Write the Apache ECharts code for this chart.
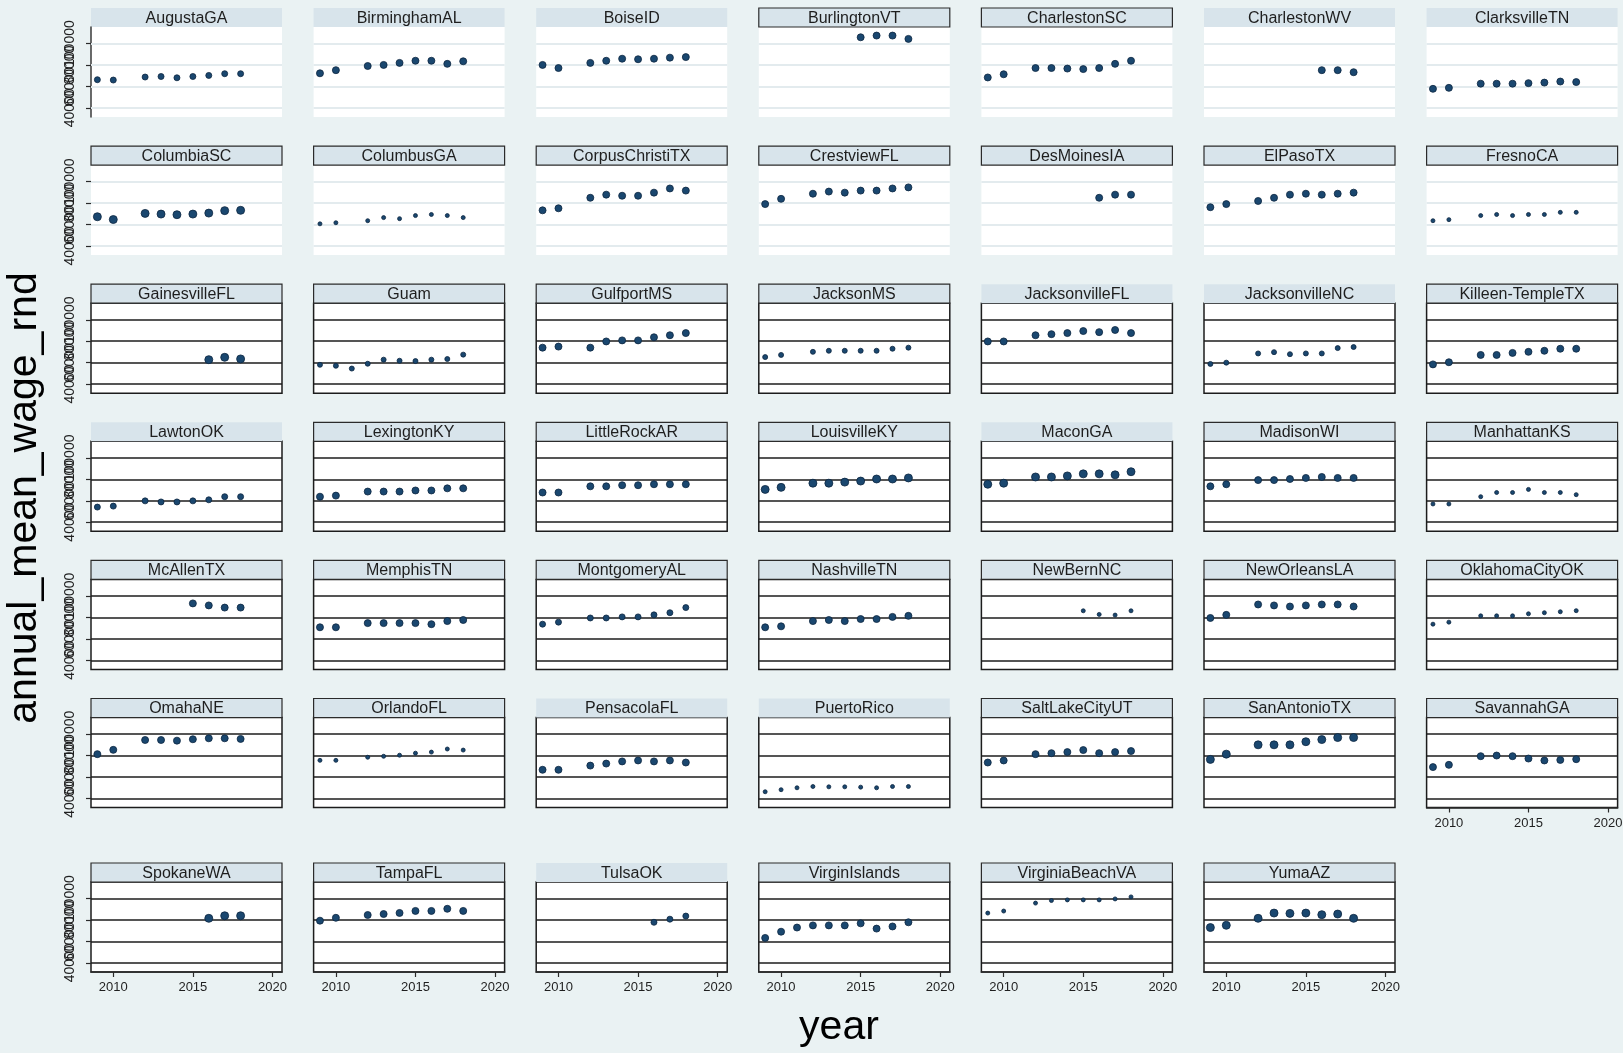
<!DOCTYPE html>
<html>
<head>
<meta charset="utf-8">
<script src="https://cdn.jsdelivr.net/npm/echarts@6/dist/echarts.min.js"></script>
<style>
  html, body { margin: 0; padding: 0; background: #eaf2f3; }
  #main { width: 1623px; height: 1053px; }
</style>
</head>
<body>
<div id="main"></div>
<script>
// panels, in the order they are drawn (7 per row)
const cities = [
  'AugustaGA', 'BirminghamAL', 'BoiseID', 'BurlingtonVT', 'CharlestonSC', 'CharlestonWV', 'ClarksvilleTN',
  'ColumbiaSC', 'ColumbusGA', 'CorpusChristiTX', 'CrestviewFL', 'DesMoinesIA', 'ElPasoTX', 'FresnoCA',
  'GainesvilleFL', 'Guam', 'GulfportMS', 'JacksonMS', 'JacksonvilleFL', 'JacksonvilleNC', 'Killeen-TempleTX',
  'LawtonOK', 'LexingtonKY', 'LittleRockAR', 'LouisvilleKY', 'MaconGA', 'MadisonWI', 'ManhattanKS',
  'McAllenTX', 'MemphisTN', 'MontgomeryAL', 'NashvilleTN', 'NewBernNC', 'NewOrleansLA', 'OklahomaCityOK',
  'OmahaNE', 'OrlandoFL', 'PensacolaFL', 'PuertoRico', 'SaltLakeCityUT', 'SanAntonioTX', 'SavannahGA',
  'SpokaneWA', 'TampaFL', 'TulsaOK', 'VirginIslands', 'VirginiaBeachVA', 'YumaAZ'
];
const years = [2009, 2010, 2011, 2012, 2013, 2014, 2015, 2016, 2017, 2018];
const xTicks = [2010, 2015, 2020];
const yTicks = [40000, 60000, 80000, 100000];

// annual mean wage per year (null = no value)
const augustaGA       = [66300, 66000, null, 68800, 69300, 68100, 69300, 70300, 71900, 71900];
const birminghamAL    = [72300, 75200, null, 79100, 80100, 82000, 84000, 84000, 81100, 83500];
const boiseID         = [80100, 77200, null, 82000, 84000, 85900, 85400, 85900, 86900, 87400];
const burlingtonVT    = [null, null, null, null, null, null, 105900, 107500, 107500, 104400];
const charlestonSC    = [68400, 71400, null, 77200, 77200, 76700, 76200, 77200, 81100, 84000];
const charlestonWV    = [null, null, null, null, null, null, null, 75200, 75200, 73300];
const clarksvilleTN   = [57800, 58700, null, 62600, 62600, 62600, 63100, 63600, 64600, 64100];
const columbiaSC      = [67300, 64700, null, 70400, 69800, 69200, 69800, 70700, 73000, 73300];
const columbusGA      = [60700, 61700, null, 63600, 66500, 65500, 68400, 69400, 68400, 66500];
const corpusChristiTX = [73300, 75200, null, 85000, 87900, 86900, 86900, 89800, 93700, 91700];
const crestviewFL     = [79100, 84000, null, 88800, 90800, 89800, 91700, 91700, 93700, 94700];
const desMoinesIA     = [null, null, null, null, null, null, null, 85000, 87900, 87900];
const elPasoTX        = [76200, 79100, null, 82000, 85000, 87900, 88800, 87900, 88800, 89800];
const fresnoCA        = [63600, 64600, null, 68400, 69400, 68400, 69400, 69400, 71400, 71400];
const gainesvilleFL   = [null, null, null, null, null, null, null, 62800, 65000, 63500];
const guam            = [58000, 57100, 54500, 59000, 62800, 61800, 61500, 62800, 63400, 67500];
const gulfportMS      = [74000, 75000, null, 74000, 79800, 80800, 80800, 83700, 85600, 87600];
const jacksonMS       = [65200, 67200, null, 70100, 71100, 71100, 71100, 71100, 73000, 74000];
const jacksonvilleFL  = [79800, 79800, null, 85600, 86600, 87600, 89500, 88500, 90500, 87600];
const jacksonvilleNC  = [58800, 60000, null, 68600, 69800, 67900, 68600, 68600, 73600, 74600];
const killeenTempleTX = [58400, 60400, null, 67200, 67200, 69100, 70100, 71100, 73000, 73000];
const lawtonOK        = [54100, 55000, null, 59900, 58900, 58900, 59900, 60900, 63800, 63800];
const lexingtonKY     = [63800, 64800, null, 68600, 68600, 68600, 69600, 69600, 71600, 71600];
const littleRockAR    = [67700, 67700, null, 73500, 73500, 74500, 74500, 75400, 75400, 75400];
const louisvilleKY    = [70600, 72500, null, 76400, 76400, 77400, 78400, 80300, 80300, 81300];
const maconGA         = [75400, 76400, null, 82200, 82200, 83200, 85100, 85100, 84200, 87100];
const madisonWI       = [73500, 75400, null, 79300, 79300, 80300, 81300, 82200, 81300, 81300];
const manhattanKS     = [57000, 57000, null, 63800, 67700, 67700, 70600, 67700, 67700, 65700];
const mcAllenTX       = [null, null, null, null, null, null, 93100, 91200, 89200, 89200];
const memphisTN       = [70800, 70800, null, 74700, 74700, 74700, 74700, 73700, 76600, 77600];
const montgomeryAL    = [73700, 75600, null, 79500, 79500, 80500, 80500, 82400, 84400, 89200];
const nashvilleTN     = [70800, 71700, null, 76600, 77600, 76600, 78500, 78500, 80500, 81500];
const newBernNC       = [null, null, null, null, null, null, 86200, 82800, 82200, 86200];
const newOrleansLA    = [79500, 82400, null, 92100, 91200, 90200, 91200, 92100, 92100, 90200];
const oklahomaCityOK  = [73700, 75600, null, 81500, 81500, 81500, 83400, 84400, 85300, 86300];
const omahaNE         = [81300, 85300, null, 94500, 94500, 93900, 95200, 96100, 96100, 95500];
const orlandoFL       = [75500, 75500, null, 78400, 79300, 80300, 82200, 83200, 86100, 85100];
const pensacolaFL     = [66700, 66700, null, 70600, 72500, 74500, 75400, 74500, 75400, 73500];
const puertoRico      = [46200, 48100, 49900, 51100, 50800, 50800, 50500, 49900, 51100, 51100];
const saltLakeCityUT  = [73500, 75400, null, 81300, 82200, 83200, 85100, 82200, 83200, 84200];
const sanAntonioTX    = [76400, 81300, null, 90000, 90000, 90000, 92900, 94900, 96800, 96800];
const savannahGA      = [69200, 71300, null, 79400, 80000, 79400, 77200, 75400, 75900, 76600];
const spokaneWA       = [null, null, null, null, null, null, null, 81600, 84000, 84000];
const tampaFL         = [79400, 82100, null, 84700, 85600, 86600, 88500, 88500, 90500, 88500];
const tulsaOK         = [null, null, null, null, null, null, null, 77900, 80800, 83700];
const virginIslands   = [63300, 69100, 73000, 75000, 75000, 75000, 76900, 72000, 74000, 77900];
const virginiaBeachVA = [86500, 88400, null, 95800, 98200, 98800, 98800, 98800, 99700, 101600];
const yumaAZ          = [73000, 75100, null, 81600, 86500, 86200, 86500, 85000, 85600, 81600];

const wages = [
  augustaGA, birminghamAL, boiseID, burlingtonVT, charlestonSC, charlestonWV, clarksvilleTN,
  columbiaSC, columbusGA, corpusChristiTX, crestviewFL, desMoinesIA, elPasoTX, fresnoCA,
  gainesvilleFL, guam, gulfportMS, jacksonMS, jacksonvilleFL, jacksonvilleNC, killeenTempleTX,
  lawtonOK, lexingtonKY, littleRockAR, louisvilleKY, maconGA, madisonWI, manhattanKS,
  mcAllenTX, memphisTN, montgomeryAL, nashvilleTN, newBernNC, newOrleansLA, oklahomaCityOK,
  omahaNE, orlandoFL, pensacolaFL, puertoRico, saltLakeCityUT, sanAntonioTX, savannahGA,
  spokaneWA, tampaFL, tulsaOK, virginIslands, virginiaBeachVA, yumaAZ
];

// marker size (px) per panel - styling only
const dotSize = {
  AugustaGA: 6, BirminghamAL: 7, BoiseID: 7, BurlingtonVT: 7, CharlestonSC: 7, CharlestonWV: 7, ClarksvilleTN: 7,
  ColumbiaSC: 8, ColumbusGA: 4, CorpusChristiTX: 7, CrestviewFL: 7, DesMoinesIA: 7, ElPasoTX: 7, FresnoCA: 4,
  GainesvilleFL: 8, Guam: 5, GulfportMS: 7, JacksonMS: 5, JacksonvilleFL: 7, JacksonvilleNC: 5, 'Killeen-TempleTX': 7,
  LawtonOK: 6, LexingtonKY: 7, LittleRockAR: 7, LouisvilleKY: 8, MaconGA: 8, MadisonWI: 7, ManhattanKS: 4,
  McAllenTX: 7, MemphisTN: 7, MontgomeryAL: 6, NashvilleTN: 7, NewBernNC: 4, NewOrleansLA: 7, OklahomaCityOK: 4,
  OmahaNE: 7, OrlandoFL: 4, PensacolaFL: 7, PuertoRico: 4, SaltLakeCityUT: 7, SanAntonioTX: 8, SavannahGA: 7,
  SpokaneWA: 8, TampaFL: 7, TulsaOK: 6, VirginIslands: 7, VirginiaBeachVA: 4, YumaAZ: 8
};
// strips drawn with an outline in the original
const outlined = ['BurlingtonVT', 'CharlestonSC', 'ColumbiaSC', 'ColumbusGA', 'CorpusChristiTX', 'CrestviewFL',
  'DesMoinesIA', 'ElPasoTX', 'FresnoCA', 'GainesvilleFL', 'Guam', 'GulfportMS', 'JacksonMS', 'Killeen-TempleTX',
  'LexingtonKY', 'LittleRockAR', 'LouisvilleKY', 'MadisonWI', 'ManhattanKS', 'McAllenTX', 'MemphisTN',
  'MontgomeryAL', 'NashvilleTN', 'NewBernNC', 'NewOrleansLA', 'OklahomaCityOK', 'OmahaNE', 'OrlandoFL',
  'SaltLakeCityUT', 'SanAntonioTX', 'SavannahGA', 'SpokaneWA', 'TampaFL', 'VirginIslands', 'VirginiaBeachVA', 'YumaAZ'];

const FONT = '"Liberation Sans", Arial, sans-serif';
const COLS = 7, LEFT0 = 91, PITCH = 222.6, PW = 191, PH = 90, STRIP = 19;
const Y_MIN = 31500, Y_MAX = 115500;
const rowTops = [27, 165.1, 303.2, 441.3, 579.4, 717.5, 882];

const chart = echarts.init(document.getElementById('main'));
const grid = [], xAxis = [], yAxis = [], series = [], graphic = [];
const labelAxes = []; // one-label y axes so the crowded labels all stay visible

cities.forEach((name, i) => {
  const r = Math.floor(i / COLS), c = i % COLS;
  const left = LEFT0 + c * PITCH, top = rowTops[r];
  const dark = r >= 2;
  const hasX = r === 6 || name === 'SavannahGA';
  const hasY = c === 0;

  grid.push({
    left: left, top: top, width: PW, height: PH,
    show: true, backgroundColor: '#fff',
    borderWidth: dark ? 1.5 : 0, borderColor: '#1c1c1c',
    outerBoundsMode: 'none'
  });
  xAxis.push({
    type: 'value', gridIndex: i, min: 2008.6, max: 2020.6,
    show: hasX,
    splitLine: { show: false },
    axisLine: { show: true, onZero: false, lineStyle: { color: '#2a2a2a', width: 1.5 } },
    axisTick: { show: true, customValues: xTicks, length: 5, lineStyle: { color: '#2a2a2a', width: 1.2 } },
    axisLabel: { show: true, customValues: xTicks, margin: 9, fontSize: 13, fontFamily: FONT, color: '#1f1f1f',
      formatter: v => String(v) }
  });
  yAxis.push({
    type: 'value', gridIndex: i, min: Y_MIN, max: Y_MAX,
    show: hasY, position: 'left',
    splitLine: { show: false },
    axisLine: { show: r === 0, onZero: false, lineStyle: { color: '#3a3a3a', width: 1.5 } },
    axisTick: { show: true, customValues: yTicks, length: 5, lineStyle: { color: '#2a2a2a', width: 1.2 } },
    axisLabel: { show: false }
  });
  if (hasY) {
    yTicks.forEach(v => {
      labelAxes.push({
        type: 'value', gridIndex: i, min: Y_MIN, max: Y_MAX, position: 'left', offset: 0,
        splitLine: { show: false }, axisLine: { show: false }, axisTick: { show: false },
        axisLabel: { show: true, customValues: [v], rotate: 90, margin: 14, fontSize: 14, fontFamily: FONT,
          color: '#1f1f1f', formatter: t => String(t) }
      });
    });
  }
  series.push({
    type: 'scatter', xAxisIndex: i, yAxisIndex: i, z: 3,
    symbol: 'circle', symbolSize: dotSize[name] || 6,
    itemStyle: { color: '#1a476f', borderColor: '#0c2640', borderWidth: 0.8, opacity: 1 },
    data: years.map((y, k) => [y, wages[i][k]]).filter(d => d[1] != null),
    markLine: {
      silent: true, z: 1, animation: false, symbol: ['none', 'none'],
      label: { show: false }, emphasis: { disabled: true },
      lineStyle: { type: 'solid', color: dark ? '#1c1c1c' : '#e3ebee', width: dark ? 1.5 : 2 },
      data: yTicks.map(v => ({ yAxis: v }))
    }
  });
  // facet strip
  graphic.push({
    type: 'rect', silent: true,
    shape: { x: left, y: top - STRIP, width: PW, height: STRIP },
    style: { fill: '#d8e4eb', stroke: outlined.includes(name) ? '#2b2b2b' : null, lineWidth: 1.2 }
  });
  graphic.push({
    type: 'text', silent: true, x: left + PW / 2, y: top - STRIP / 2 + 1,
    style: { text: name, align: 'center', verticalAlign: 'middle', font: '16px ' + FONT, fill: '#1e1e1e' }
  });
});

graphic.push({
  type: 'text', silent: true, x: 25, y: 498, rotation: Math.PI / 2,
  style: { text: 'annual_mean_wage_rnd', align: 'center', verticalAlign: 'middle', font: '41px ' + FONT, fill: '#000' }
});
graphic.push({
  type: 'text', silent: true, x: 839, y: 1028,
  style: { text: 'year', align: 'center', verticalAlign: 'middle', font: '41px ' + FONT, fill: '#000' }
});

chart.setOption({
  backgroundColor: '#eaf2f3',
  animation: false,
  grid: grid,
  xAxis: xAxis,
  yAxis: yAxis.concat(labelAxes),
  series: series,
  graphic: graphic
});
</script>
</body>
</html>
